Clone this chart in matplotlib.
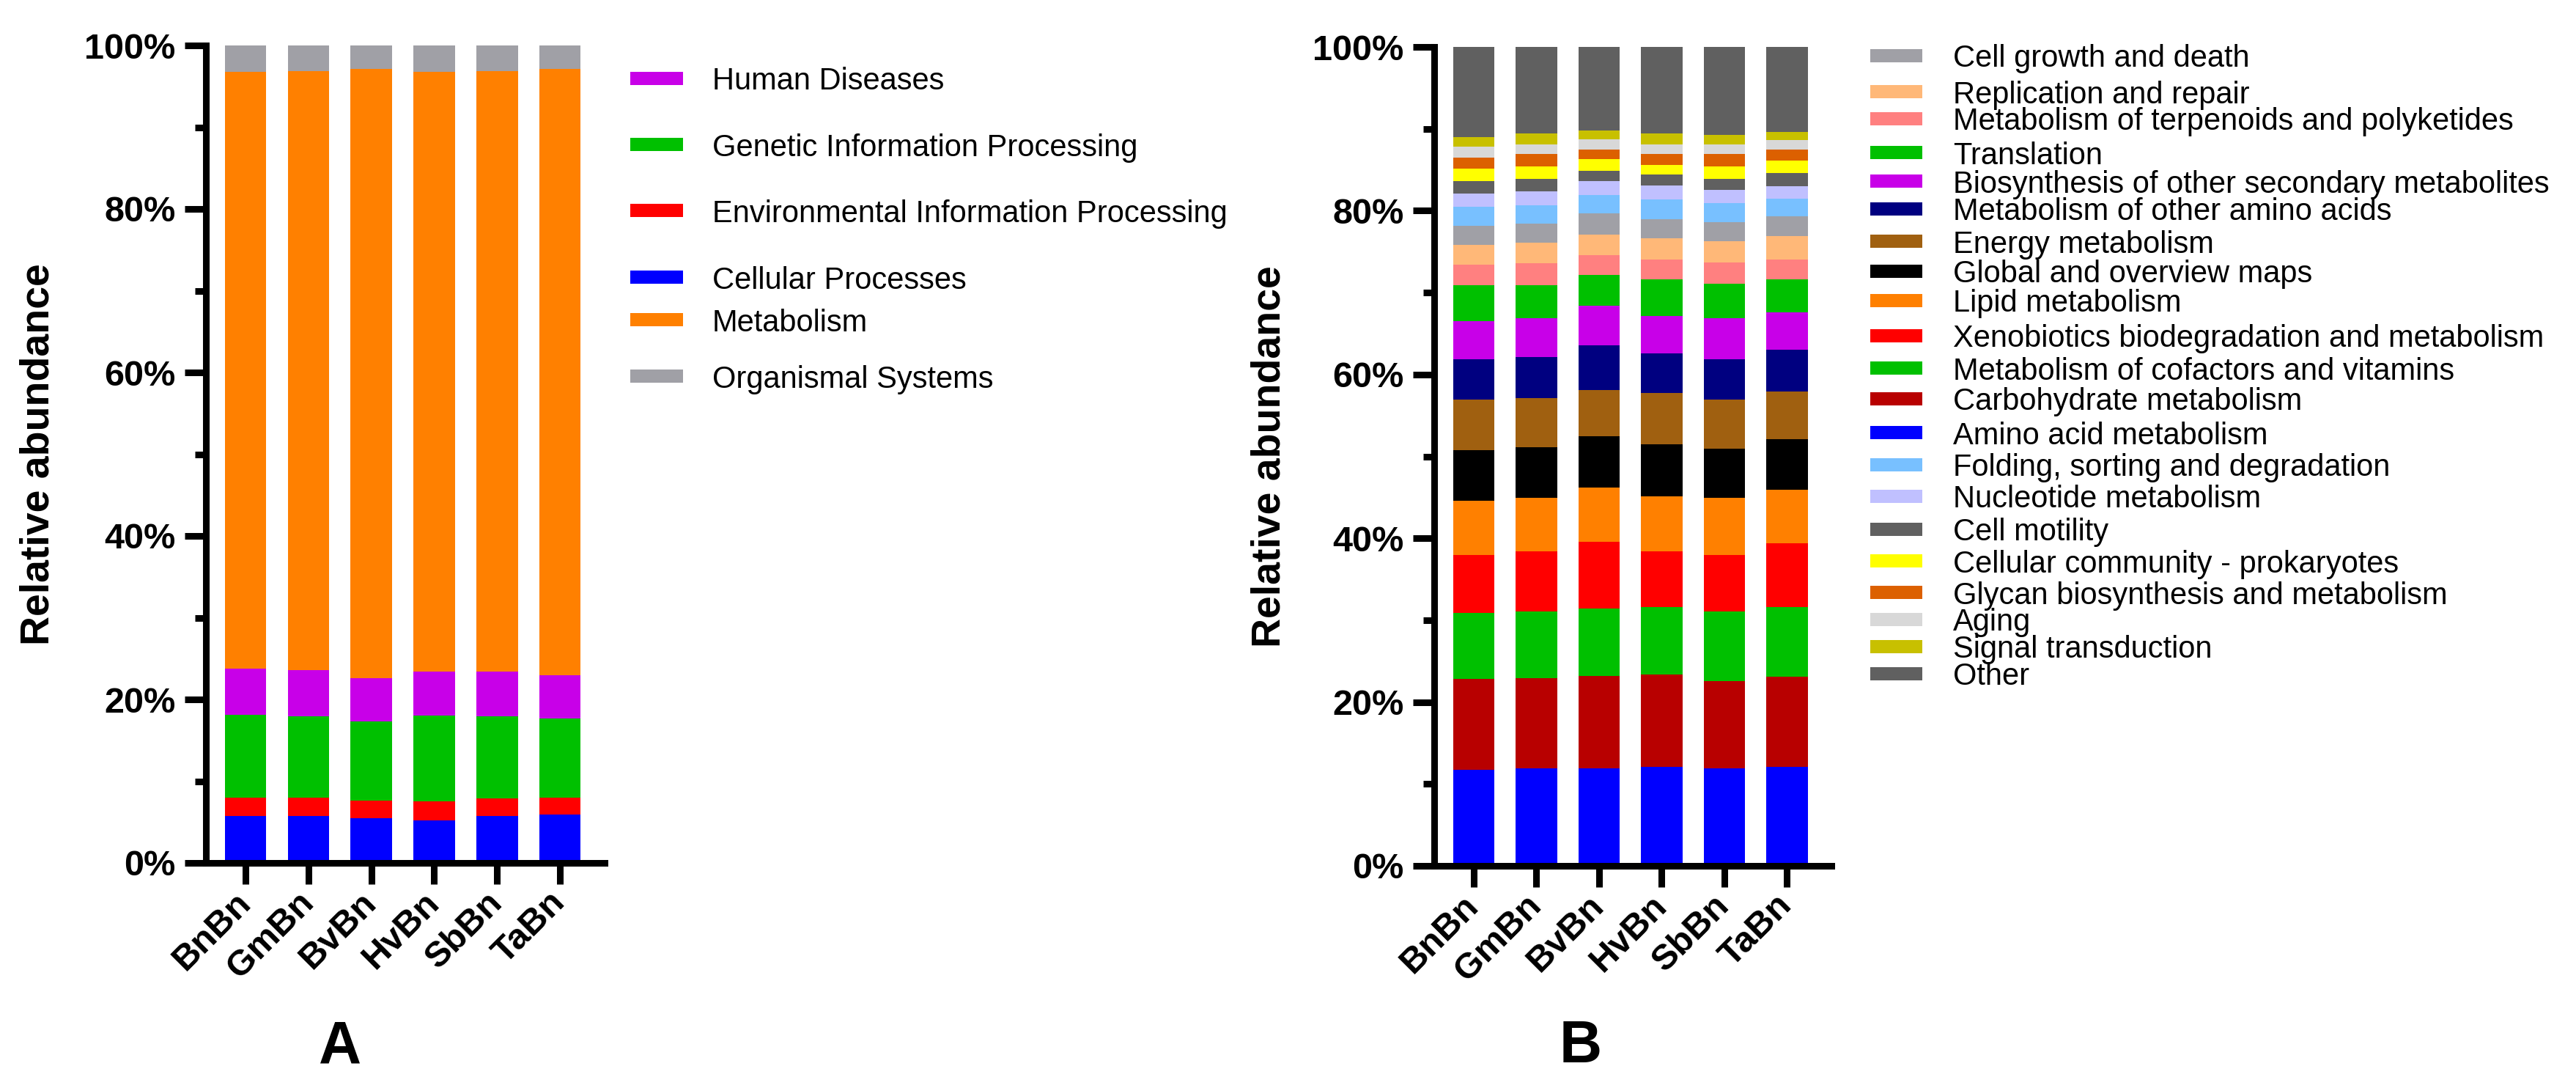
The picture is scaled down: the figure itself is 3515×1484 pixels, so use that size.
import numpy as np
import matplotlib.pyplot as plt
from matplotlib.patches import Rectangle

plt.rcParams['font.family'] = ['Liberation Sans', 'DejaVu Sans']

samples = ['BnBn', 'GmBn', 'BvBn', 'HvBn', 'SbBn', 'TaBn']

# ---- panel A: KEGG level 1 (stack order, bottom to top) ----
cats_a = ['Cellular Processes', 'Environmental Information Processing',
          'Genetic Information Processing', 'Human Diseases',
          'Metabolism', 'Organismal Systems']
colors_a = ['#0000FF', '#FF0000', '#00C000', '#C800E8', '#FF8000', '#A0A0A6']
legend_order_a = [3, 2, 1, 0, 4, 5]

# percent per sample, same order as cats_a
bnbn_a = [5.7, 2.3, 10.1, 5.7, 73.0, 3.2]
gmbn_a = [5.7, 2.3, 9.9, 5.7, 73.3, 3.1]
bvbn_a = [5.5, 2.1, 9.7, 5.3, 74.5, 2.9]
hvbn_a = [5.2, 2.3, 10.5, 5.4, 73.4, 3.2]
sbbn_a = [5.7, 2.2, 10.0, 5.5, 73.5, 3.1]
tabn_a = [5.9, 2.1, 9.7, 5.3, 74.1, 2.9]

# ---- panel B: KEGG level 2 (stack order, bottom to top) ----
cats_b = ['Amino acid metabolism', 'Carbohydrate metabolism',
          'Metabolism of cofactors and vitamins',
          'Xenobiotics biodegradation and metabolism', 'Lipid metabolism',
          'Global and overview maps', 'Energy metabolism',
          'Metabolism of other amino acids',
          'Biosynthesis of other secondary metabolites', 'Translation',
          'Metabolism of terpenoids and polyketides', 'Replication and repair',
          'Cell growth and death', 'Folding, sorting and degradation',
          'Nucleotide metabolism', 'Cell motility',
          'Cellular community - prokaryotes',
          'Glycan biosynthesis and metabolism', 'Aging',
          'Signal transduction', 'Other']
colors_b = ['#0000FF', '#B80000', '#00C000', '#FF0000', '#FF8000', '#000000',
            '#A06010', '#000080', '#C800E8', '#00C000', '#FF8080', '#FFB878',
            '#A0A0A6', '#78C0FF', '#C0C0FF', '#606060', '#FFFF00', '#DC6000',
            '#D8D8D8', '#C8C000', '#606060']
legend_order_b = [12, 11, 10, 9, 8, 7, 6, 5, 4, 3, 2, 1, 0,
                  13, 14, 15, 16, 17, 18, 19, 20]

bnbn_b = [11.7, 11.1, 8.1, 7.1, 6.6, 6.2, 6.1, 5.0, 4.6, 4.4, 2.5,
          2.4, 2.4, 2.3, 1.6, 1.5, 1.5, 1.4, 1.3, 1.2, 11.0]
gmbn_b = [11.9, 11.0, 8.2, 7.3, 6.5, 6.2, 6.0, 5.0, 4.8, 4.0, 2.7,
          2.5, 2.3, 2.3, 1.7, 1.5, 1.5, 1.5, 1.2, 1.3, 10.6]
bvbn_b = [11.9, 11.3, 8.2, 8.2, 6.6, 6.3, 5.6, 5.5, 4.8, 3.8, 2.4,
          2.5, 2.6, 2.2, 1.7, 1.3, 1.4, 1.2, 1.2, 1.1, 10.2]
hvbn_b = [12.1, 11.3, 8.2, 6.8, 6.7, 6.4, 6.2, 4.9, 4.5, 4.5, 2.4,
          2.6, 2.4, 2.4, 1.7, 1.3, 1.2, 1.3, 1.2, 1.3, 10.6]
sbbn_b = [11.9, 10.7, 8.5, 6.9, 6.9, 6.0, 6.0, 5.0, 5.0, 4.2, 2.6,
          2.6, 2.3, 2.3, 1.6, 1.4, 1.5, 1.5, 1.2, 1.2, 10.7]
tabn_b = [12.1, 11.0, 8.5, 7.8, 6.5, 6.2, 5.8, 5.1, 4.6, 4.0, 2.4,
          2.9, 2.4, 2.2, 1.5, 1.6, 1.5, 1.4, 1.1, 1.0, 10.4]

data_a = np.array([bnbn_a, gmbn_a, bvbn_a, hvbn_a, sbbn_a, tabn_a]).T
data_b = np.array([bnbn_b, gmbn_b, bvbn_b, hvbn_b, sbbn_b, tabn_b]).T

W, H = 3516, 1484
fig = plt.figure(figsize=(W / 100, H / 100), dpi=100)


def px_axes(x0, x1, ytop, ybot):
    return fig.add_axes([x0 / W, 1 - ybot / H, (x1 - x0) / W, (ybot - ytop) / H])


def stacked(ax, data, colors):
    x = np.arange(len(samples))
    bottom = np.zeros(len(samples))
    for vals, col in zip(data, colors):
        ax.bar(x, vals, bottom=bottom, width=0.66, color=col, linewidth=0)
        bottom += vals
    ax.set_xlim(-0.63, 5.71)
    ax.set_ylim(0, 100)
    ax.set_yticks(np.arange(0, 101, 20))
    ax.set_yticks(np.arange(10, 100, 20), minor=True)
    ax.set_yticklabels([f'{v}%' for v in range(0, 101, 20)],
                       fontsize=35, fontweight='bold')
    ax.set_xticks(x)
    ax.set_xticklabels(samples, fontsize=35, fontweight='bold', rotation=45,
                       ha='right', va='center', rotation_mode='anchor')
    for s in ['top', 'right']:
        ax.spines[s].set_visible(False)
    for s in ['left', 'bottom']:
        ax.spines[s].set_linewidth(6.5)
    ax.tick_params(axis='y', which='major', length=21, width=6.5, pad=9)
    ax.tick_params(axis='y', which='minor', length=11, width=6.5)
    ax.tick_params(axis='x', which='major', length=21, width=6.5, pad=13)
    ax.set_ylabel('Relative abundance', fontsize=40, fontweight='bold')


def manual_legend(labels, colors, order, ys, x0, x1, xt, fs):
    for k, y in zip(order, ys):
        fig.patches.append(Rectangle((x0 / W, 1 - (y + 9) / H), (x1 - x0) / W, 18 / H,
                                     transform=fig.transFigure,
                                     color=colors[k], linewidth=0))
        fig.text(xt / W, 1 - y / H, labels[k], fontsize=fs,
                 ha='left', va='center_baseline')


ax_a = px_axes(281, 825, 62, 1177)
stacked(ax_a, data_a, colors_a)
ax_a.yaxis.set_label_coords(-0.373, 0.5)

ax_b = px_axes(1957, 2499, 64, 1181)
stacked(ax_b, data_b, colors_b)
ax_b.yaxis.set_label_coords(-0.367, 0.5)

legend_y_a = [107, 197, 287, 378, 436, 513]
manual_legend(cats_a, colors_a, legend_order_a, legend_y_a, 860, 932, 972, 30)

legend_y_b = [76, 125, 162, 208, 247, 285, 329, 370, 410, 458, 502,
              544, 590, 634, 677, 722, 765, 808, 845, 882, 919]
manual_legend(cats_b, colors_b, legend_order_b, legend_y_b, 2552, 2623, 2665, 30)

fig.text(464 / W, 1 - 1428 / H, 'A', fontsize=58, fontweight='bold',
         ha='center', va='center')
fig.text(2157 / W, 1 - 1428 / H, 'B', fontsize=58, fontweight='bold',
         ha='center', va='center')

fig.savefig('out.png', dpi=100)
